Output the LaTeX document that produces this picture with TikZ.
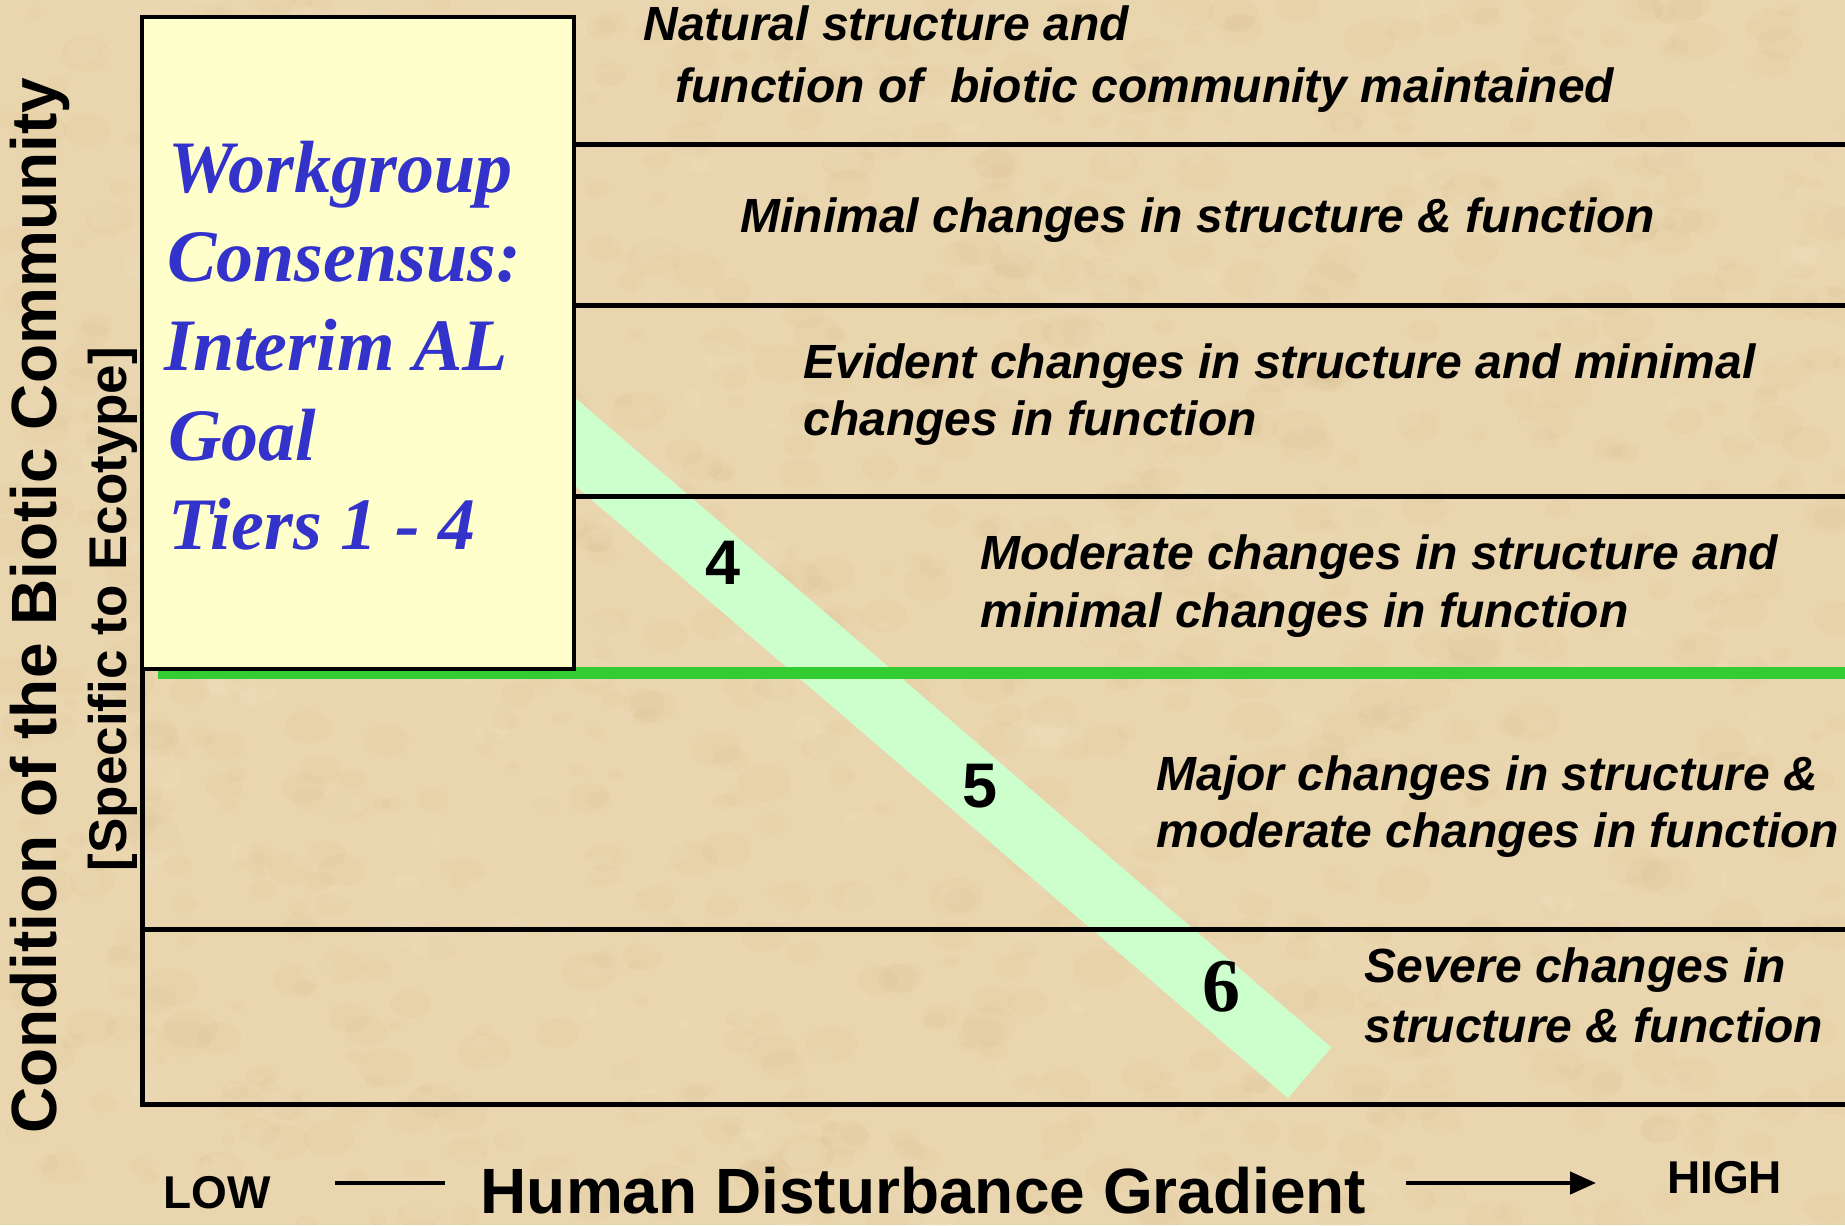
\documentclass[tikz,border=0pt]{standalone}
\usepackage{fontspec}
\setmainfont{Liberation Sans}
\newfontfamily\timesfont{Liberation Serif}
\usetikzlibrary{arrows.meta}

\definecolor{parchment}{HTML}{E9D5AE}
\definecolor{parchdark}{HTML}{C9A46A}
\definecolor{parchlight}{HTML}{F7EBCF}
\definecolor{notepad}{HTML}{FFFFCC}
\definecolor{bandgreen}{HTML}{CCFFCC}
\definecolor{goalgreen}{HTML}{33CC33}
\definecolor{goalblue}{HTML}{3333CC}

\begin{document}
\begin{tikzpicture}[x=0.5pt,y=-0.5pt,
  rule/.style={line width=2.5pt, black},
  tiertext/.style={anchor=base west, inner sep=0pt,
    font=\fontsize{24}{28}\selectfont\bfseries\itshape},
  goaltext/.style={anchor=base west, inner sep=0pt, text=goalblue,
    font=\timesfont\fontsize{37}{42}\selectfont\bfseries\itshape},
  tiernum/.style={anchor=base, inner sep=0pt,
    font=\fontsize{31.5}{36}\selectfont\bfseries},
  axislabel/.style={anchor=base, inner sep=0pt, font=\bfseries},
  goalbox/.style={draw=black, line width=2.3pt, fill=notepad,
    minimum width=216pt, minimum height=326pt, inner sep=0pt, outer sep=0pt}]

% parchment background with a fine mottled grain
\fill[parchment] (0,0) rectangle (1845,1225);
\useasboundingbox (0,0) rectangle (1845,1225);
\begin{scope}
  \clip (0,0) rectangle (1845,1225);
  \pgfmathsetseed{4242}
  \foreach \k in {1,...,900}{
    \pgfmathsetmacro\px{rnd*1845}
    \pgfmathsetmacro\py{rnd*1225}
    \pgfmathsetmacro\rr{3+rnd*11}
    \fill[parchdark, opacity=0.06] (\px,\py) ellipse[x radius=\rr pt, y radius=0.7*\rr pt];
  }
  \foreach \k in {1,...,800}{
    \pgfmathsetmacro\px{rnd*1845}
    \pgfmathsetmacro\py{rnd*1225}
    \pgfmathsetmacro\rr{2+rnd*9}
    \fill[parchlight, opacity=0.10] (\px,\py) ellipse[x radius=\rr pt, y radius=0.8*\rr pt];
  }
\end{scope}

% diagonal band of tiers 4 to 6
\coordinate (bandtop) at (200,119.5);
\coordinate (bandend) at (1309.7,1072.7);
\draw[bandgreen, line width=33.3pt] (bandtop) -- (bandend);

% tier boundaries
\coordinate (r1) at (1845,145);
\coordinate (r2) at (1845,305);
\coordinate (r3) at (1845,496.3);
\coordinate (r5) at (1845,929);
\coordinate (g0) at (158,673);
\coordinate (g1) at (1845,673);
\coordinate (origin) at (142,1104.5);
\coordinate (xend) at (1845,1104.5);
\coordinate (l5) at (142,929);
\coordinate (boxcorner) at (142,669);

\draw[goalgreen, line width=6.4pt] (g0) -- (g1);
\draw[rule] (l5) -- (r5);
\draw[rule] (boxcorner) -- (origin) -- (xend);

% goal box
\node[goalbox] (goal) at (358,343) {};
\draw[rule] (goal.east |- r1) -- (r1);
\draw[rule] (goal.east |- r2) -- (r2);
\draw[rule] (goal.east |- r3) -- (r3);

\node[goaltext] (w1) at (168,193) {Workgroup};
\node[goaltext] (w2) at (167,281) {Consensus:};
\node[goaltext] (w3) at (164,370.5) {Interim AL};
\node[goaltext] (w4) at (168,460) {Goal};
\node[goaltext] (w5) at (168,549) {Tiers 1 - 4};

% tier descriptions
\node[tiertext] (t1a) at (643,41) {Natural structure and};
\node[tiertext] (t1b) at (675,103) {function of\ \ biotic community maintained};
\node[tiertext] (t2) at (740,233) {Minimal changes in structure \& function};
\node[tiertext] (t3a) at (803,378) {Evident changes in structure and minimal};
\node[tiertext] (t3b) at (803,435.5) {changes in function};
\node[tiertext] (t4a) at (980,569) {Moderate changes in structure and};
\node[tiertext] (t4b) at (980,627) {minimal changes in function};
\node[tiertext] (t5a) at (1156,790) {Major changes in structure \&};
\node[tiertext] (t5b) at (1156,847.5) {moderate changes in function};
\node[tiertext] (t6a) at (1364,982) {Severe changes in};
\node[tiertext] (t6b) at (1364,1042) {structure \& function};

% tier numbers on the band
\node[tiernum] (n4) at (723,584) {4};
\node[tiernum] (n5) at (980,807.5) {5};
\node[tiernum, font=\timesfont\fontsize{38}{42}\selectfont\bfseries] (n6) at (1221,1011) {6};

% axis labels
\node[axislabel, rotate=90, font=\fontsize{32}{36}\selectfont\bfseries] (ylab) at (56,606)
  {Condition of the Biotic Community};
\node[axislabel, rotate=90, font=\fontsize{26.5}{30}\selectfont\bfseries] (ysub) at (126.5,609)
  {[Specific to Ecotype]};

\node[axislabel, font=\fontsize{23}{26}\selectfont\bfseries] (low) at (217.5,1208) {LOW};
\node[axislabel, font=\fontsize{32}{36}\selectfont\bfseries] (gradient) at (923.5,1213)
  {Human Disturbance Gradient};
\node[axislabel, font=\fontsize{23}{26}\selectfont\bfseries] (high) at (1724.5,1193) {HIGH};

\coordinate (dashA) at (335,1183);
\coordinate (dashB) at (445,1183);
\coordinate (arrA) at (1406,1183);
\coordinate (arrB) at (1596,1183);
\draw[line width=2.2pt] (dashA) -- (dashB);
\draw[line width=2.2pt, -{Triangle[length=13pt,width=11pt]}] (arrA) -- (arrB);
\end{tikzpicture}
\end{document}
